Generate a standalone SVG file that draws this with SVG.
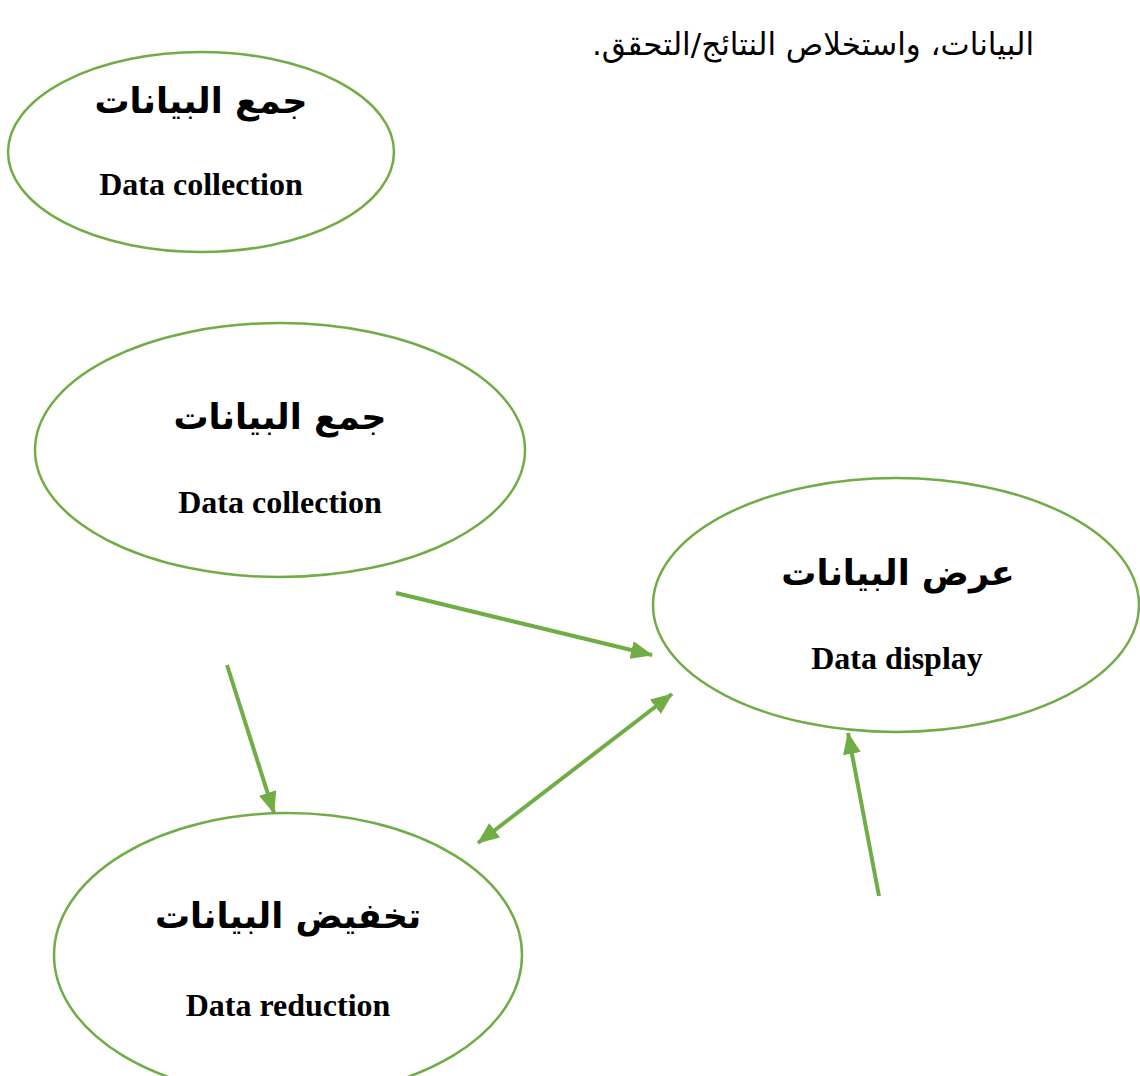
<svg xmlns="http://www.w3.org/2000/svg" width="1140" height="1076" viewBox="0 0 1140 1076">
<style>
.node{fill:#fff;stroke:#70AD47;stroke-width:2.5}
.ar{font-family:"DejaVu Sans",sans-serif;font-weight:bold;font-size:35px;fill:#000;text-anchor:middle}
.en{font-family:"Liberation Serif",serif;font-weight:bold;font-size:32px;fill:#000;text-anchor:middle}
.top{font-family:"DejaVu Sans",sans-serif;font-size:31px;fill:#000;text-anchor:middle}
.conn{stroke:#70AD47;stroke-width:4;fill:none}
</style>
<defs>
<marker id="ah" viewBox="0 0 22 18" refX="21" refY="9" markerWidth="22" markerHeight="18" markerUnits="userSpaceOnUse" orient="auto-start-reverse">
<path d="M0,0 L22,9 L0,18 Z" fill="#70AD47"/>
</marker>
</defs>
<rect width="1140" height="1076" fill="#fff"/>
<text class="top" x="813" y="55" direction="rtl">البيانات، واستخلاص النتائج/التحقق.</text>
<g id="node-collection-1">
<ellipse class="node" cx="201" cy="152" rx="193" ry="100"/>
<text class="ar" x="201" y="113" direction="rtl">جمع البيانات</text>
<text class="en" x="201" y="195">Data collection</text>
</g>
<g id="node-collection-2">
<ellipse class="node" cx="280" cy="450" rx="245" ry="127"/>
<text class="ar" x="280" y="429" direction="rtl">جمع البيانات</text>
<text class="en" x="280" y="513">Data collection</text>
</g>
<g id="node-display">
<ellipse class="node" cx="896" cy="605" rx="243" ry="127"/>
<text class="ar" x="898" y="585" direction="rtl">عرض البيانات</text>
<text class="en" x="897" y="669">Data display</text>
</g>
<g id="node-reduction">
<ellipse class="node" cx="288" cy="955" rx="234" ry="142"/>
<text class="ar" x="288" y="928" direction="rtl">تخفيض البيانات</text>
<text class="en" x="288" y="1016">Data reduction</text>
</g>
<g id="connectors">
<line class="conn" x1="396" y1="593" x2="652" y2="655" marker-end="url(#ah)"/>
<line class="conn" x1="227" y1="665" x2="274" y2="813" marker-end="url(#ah)"/>
<line class="conn" x1="478" y1="843" x2="672" y2="694" marker-start="url(#ah)" marker-end="url(#ah)"/>
<line class="conn" x1="879" y1="896" x2="848" y2="733" marker-end="url(#ah)"/>
</g>
</svg>
